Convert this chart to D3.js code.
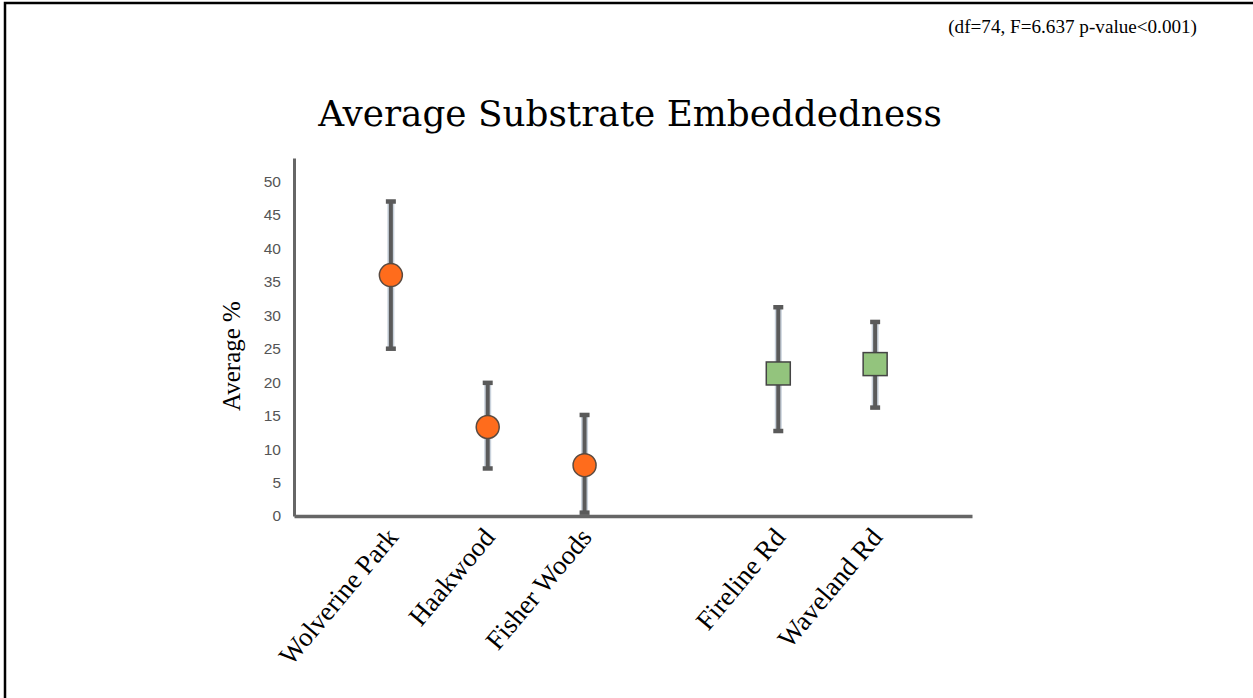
<!DOCTYPE html>
<html>
<head>
<meta charset="utf-8">
<script src="https://cdn.jsdelivr.net/npm/d3@7"></script>
<style>
  body { margin: 0; background: #fff; }
  svg { display: block; }
</style>
</head>
<body>
<script>
// site order along the x axis, "" is the empty slot between the two groups
var slots = ["Wolverine Park", "Haakwood", "Fisher Woods", "", "Fireline Rd", "Waveland Rd"];
var sites = ["Wolverine Park", "Haakwood", "Fisher Woods", "Fireline Rd", "Waveland Rd"];
var siteType = ["park", "park", "park", "road", "road"];
var means = [36, 13.3, 7.6, 21.3, 22.7];
var upper = [47, 19.9, 15.1, 31.2, 29.0];
var lower = [25, 7.1, 0.5, 12.7, 16.2];
var yTicks = [0, 5, 10, 15, 20, 25, 30, 35, 40, 45, 50];

var titleText = "Average Substrate Embeddedness";
var statsText = "(df=74, F=6.637 p-value<0.001)";
var yLabelText = "Average %";

var W = 1253, H = 698;

var svg = d3.select("body").append("svg")
    .attr("width", W)
    .attr("height", H);

// frame round the slide
svg.append("rect")
    .attr("x", 5).attr("y", 3)
    .attr("width", W + 10).attr("height", H + 10)
    .attr("fill", "#fff")
    .attr("stroke", "#000")
    .attr("stroke-width", 2.5);

var x = d3.scalePoint()
    .domain(slots)
    .range([294, 972])
    .padding(1);

var y = d3.scaleLinear()
    .domain([0, 53.5])
    .range([516, 158]);

// y axis
var yAxis = d3.axisLeft(y)
    .tickValues(yTicks)
    .tickSize(0)
    .tickSizeOuter(0)
    .tickPadding(13);

var gy = svg.append("g")
    .attr("transform", "translate(294,0)")
    .call(yAxis);
gy.select(".domain").attr("stroke", "#666").attr("stroke-width", 3);
gy.selectAll("text")
    .style("font-family", "'Liberation Sans', Arial, sans-serif")
    .style("font-size", "15.5px")
    .attr("fill", "#555");

// x axis
var xAxis = d3.axisBottom(x)
    .tickValues(sites)
    .tickSize(0)
    .tickSizeOuter(0);

var gx = svg.append("g")
    .attr("transform", "translate(0,516)")
    .call(xAxis);
gx.select(".domain").attr("stroke", "#666").attr("stroke-width", 3.5);
gx.selectAll("text")
    .attr("x", 0).attr("y", 0).attr("dy", null)
    .attr("text-anchor", "end")
    .attr("transform", "translate(8,22) rotate(-50)")
    .style("font-family", "'Liberation Serif', 'Times New Roman', serif")
    .style("font-size", "27px")
    .attr("fill", "#000");

// error bars
var bars = svg.append("g").selectAll("g")
    .data(sites)
  .enter().append("g")
    .attr("transform", function(d) { return "translate(" + x(d) + ",0)"; });

// light halo behind the bar
bars.append("line")
    .attr("y1", function(d, i) { return y(upper[i]); })
    .attr("y2", function(d, i) { return y(lower[i]); })
    .attr("stroke", "#c9d2dc")
    .attr("stroke-width", 7);
bars.append("line")
    .attr("y1", function(d, i) { return y(upper[i]); })
    .attr("y2", function(d, i) { return y(lower[i]); })
    .attr("stroke", "#5a5a5a")
    .attr("stroke-width", 4);
[upper, lower].forEach(function(arr) {
  bars.append("line")
      .attr("x1", -5).attr("x2", 5)
      .attr("y1", function(d, i) { return y(arr[i]); })
      .attr("y2", function(d, i) { return y(arr[i]); })
      .attr("stroke", "#5a5a5a")
      .attr("stroke-width", 4.5);
});

// markers
bars.filter(function(d, i) { return siteType[i] == "park"; })
  .append("circle")
    .attr("cy", function(d) { return y(means[sites.indexOf(d)]); })
    .attr("r", 11.5)
    .attr("fill", "#ff6c1c")
    .attr("stroke", "#5a4a40")
    .attr("stroke-width", 1.5);

bars.filter(function(d, i) { return siteType[i] == "road"; })
  .append("rect")
    .attr("x", -12)
    .attr("y", function(d) { return y(means[sites.indexOf(d)]) - 11.5; })
    .attr("width", 24)
    .attr("height", 23)
    .attr("fill", "#93c47d")
    .attr("stroke", "#444")
    .attr("stroke-width", 1.5);

// y label
svg.append("text")
    .attr("transform", "translate(240,356) rotate(-90)")
    .attr("text-anchor", "middle")
    .style("font-family", "'Liberation Serif', 'Times New Roman', serif")
    .style("font-size", "25px")
    .text(yLabelText);

// title, sized to the width it has on the slide
var title = svg.append("text")
    .attr("x", 630)
    .attr("y", 126)
    .attr("text-anchor", "middle")
    .style("font-family", "'DejaVu Serif', Georgia, serif")
    .style("font-size", "36px")
    .text(titleText);
var tw = title.node().getComputedTextLength();
title.style("font-size", (36 * 624 / tw) + "px");

var stats = svg.append("text")
    .attr("x", 1197)
    .attr("y", 33)
    .attr("text-anchor", "end")
    .style("font-family", "'Liberation Serif', Georgia, serif")
    .style("font-size", "16px")
    .text(statsText);
var sw = stats.node().getComputedTextLength();
stats.style("font-size", (16 * 249 / sw) + "px");
</script>
</body>
</html>
